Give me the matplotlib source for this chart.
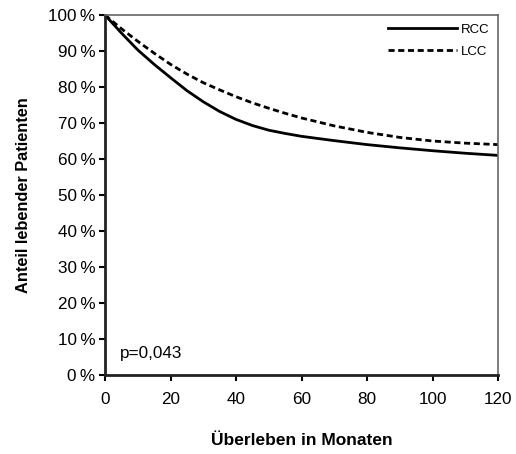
import matplotlib
matplotlib.use('Agg')
from matplotlib import pyplot as plt
from matplotlib.ticker import FuncFormatter

plt.rcParams['font.family'] = ['Liberation Sans', 'DejaVu Sans']

months = [0, 5, 10, 15, 20, 25, 30, 35, 40, 45, 50, 55, 60, 70, 80, 90, 100, 110, 120]
rcc = [100, 95.0, 90.3, 86.3, 82.6, 79.0, 75.9, 73.2, 71.0, 69.3, 68.0, 67.1, 66.3,
       65.1, 64.0, 63.1, 62.3, 61.6, 61.0]
lcc = [100, 96.2, 92.7, 89.4, 86.3, 83.6, 81.2, 79.2, 77.3, 75.6, 74.1, 72.7, 71.4,
       69.2, 67.4, 66.0, 65.0, 64.4, 64.0]
x_ticks = [0, 20, 40, 60, 80, 100, 120]
y_ticks = list(range(0, 101, 10))

fig = plt.figure(figsize=(5.16, 4.54), dpi=100)
ax = fig.add_axes([105 / 516, 79 / 454, 393 / 516, 360 / 454])

ax.plot(months, rcc, color='black', linewidth=2, label='RCC')
ax.plot(months, lcc, color='black', linewidth=2, linestyle=(0, (2.2, 1.3)), label='LCC')

ax.set_xlim(0, 120)
ax.set_ylim(0, 100)
ax.set_xticks(x_ticks)
ax.set_yticks(y_ticks)
ax.yaxis.set_major_formatter(FuncFormatter(lambda v, p: '%d\u2009%%' % v))
ax.tick_params(labelsize=12.3, direction='out', length=4, width=1.5, pad=3)
ax.tick_params(axis='x', pad=8)

for s in ['left', 'bottom']:
    ax.spines[s].set_linewidth(2)
    ax.spines[s].set_color('#222222')
for s in ['top', 'right']:
    ax.spines[s].set_linewidth(1.2)
    ax.spines[s].set_color('#666666')

ax.set_xlabel('Überleben in Monaten', fontsize=12.5, fontweight='bold', labelpad=19)
ax.set_ylabel('Anteil lebender Patienten', fontsize=11.8, fontweight='bold', labelpad=12)

ax.text(4.5, 6, 'p=0,043', fontsize=12.3, va='center')

leg = ax.legend(loc='upper right', frameon=False, fontsize=9.5, handlelength=5.2,
                handletextpad=0.3, labelspacing=0.75, borderaxespad=0.25)

plt.savefig('out.png', dpi=100)
